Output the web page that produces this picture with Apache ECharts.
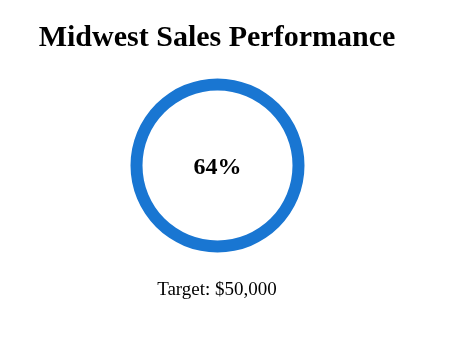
<!DOCTYPE html>
<html>
<head>
<meta charset="utf-8">
<script src="https://cdn.jsdelivr.net/npm/echarts@6/dist/echarts.min.js"></script>
<style>
html,body{margin:0;padding:0;background:#fff;}
#chart{width:463px;height:356px;}
</style>
</head>
<body>
<div id="chart"></div>
<script>
const titleText = 'Midwest Sales Performance';
const percentValue = [64];
const targetValue = 50000;
const targetLabel = 'Target: $' + targetValue.toLocaleString('en-US');

const chart = echarts.init(document.getElementById('chart'), null, {renderer: 'canvas'});
const serif = '"Liberation Serif", "Times New Roman", serif';
chart.setOption({
  animation: false,
  backgroundColor: '#ffffff',
  graphic: [
    {
      type: 'text', x: 217, y: 38,
      style: {text: titleText, fontFamily: serif, fontWeight: 'bold', fontSize: 30, fill: '#000',
        align: 'center', verticalAlign: 'middle'}
    },
    {
      type: 'text', x: 217, y: 290,
      style: {text: targetLabel, fontFamily: serif, fontWeight: 'normal', fontSize: 19, fill: '#000',
        align: 'center', verticalAlign: 'middle'}
    }
  ],
  series: [{
    type: 'pie',
    center: [217.5, 165.5],
    radius: [75, 87],
    silent: true,
    startAngle: 90,
    label: {
      show: true, position: 'center',
      formatter: function(p){ return p.value + '%'; },
      fontFamily: serif, fontWeight: 'bold', fontSize: 24, color: '#000',
      offset: [0, 2]
    },
    labelLine: {show: false},
    itemStyle: {color: '#1976d2', borderWidth: 0},
    data: percentValue.map(v => ({value: v, name: 'Progress'}))
  }]
});
</script>
</body>
</html>
